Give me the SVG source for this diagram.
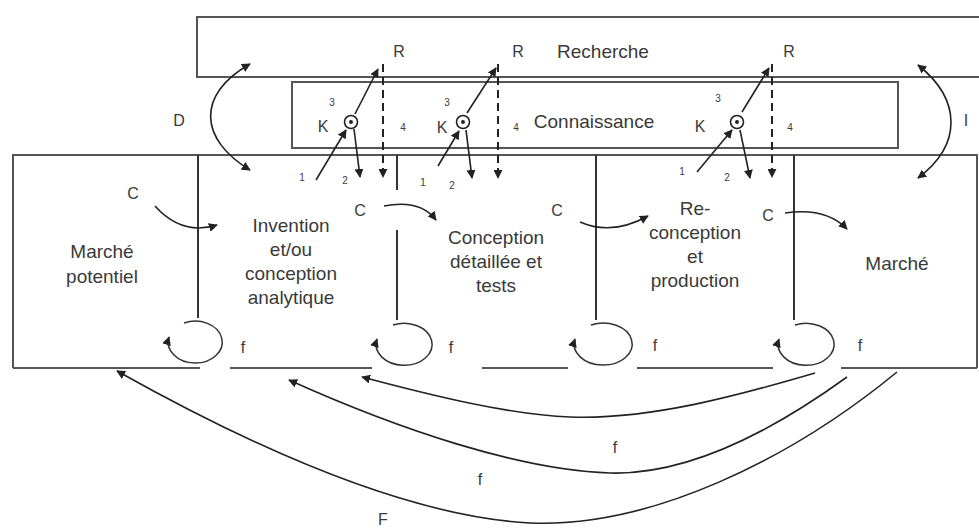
<svg xmlns="http://www.w3.org/2000/svg" width="979" height="530" viewBox="0 0 979 530">
<defs>
<marker id="ah" viewBox="0 0 10 10" refX="9" refY="5" markerWidth="9" markerHeight="9" markerUnits="userSpaceOnUse" orient="auto-start-reverse">
<path d="M0,0 L10,5 L0,10 Z" fill="#222"/>
</marker>
<style>
.box{fill:none;stroke:#555;stroke-width:2}
.div{fill:none;stroke:#333;stroke-width:2}
.ar{fill:none;stroke:#222;stroke-width:1.6;marker-end:url(#ah)}
.dar{fill:none;stroke:#222;stroke-width:1.6;marker-start:url(#ah);marker-end:url(#ah)}
.dash{fill:none;stroke:#222;stroke-width:2;stroke-dasharray:8,5;marker-end:url(#ah)}
.loop{fill:none;stroke:#333;stroke-width:1.5;marker-end:url(#ah)}
.t{font-family:"Liberation Sans",Arial,sans-serif;fill:#3a3a3a;text-anchor:middle}
.big{font-size:19px}
.lbl{font-size:16px}
.num{font-size:10px}
.k{fill:#fff;stroke:#222;stroke-width:1.6}
</style>
</defs>

<g id="recherche">
<rect class="box" x="197" y="17" width="800" height="60"/>
<text class="t big" x="603" y="58">Recherche</text>
</g>

<g id="connaissance">
<rect class="box" x="292" y="82" width="606" height="66"/>
<text class="t big" x="594" y="128">Connaissance</text>
</g>

<g id="frame">
<path class="box" d="M13,368 L13,155 L977,155 L977,368"/>
<path class="box" d="M13,368 L200,368 M230,368 L372,368 M482,368 L568,368 M637,368 L773,368 M841,368 L977,368"/>
<path class="div" d="M198,155 L198,318 M397,155 L397,190 M397,230 L397,320 M596,155 L596,320 M794,155 L794,320"/>
</g>

<g id="marche-potentiel">
<text class="t big" x="102" y="258">Marché</text>
<text class="t big" x="102" y="283">potentiel</text>
</g>

<g id="invention">
<text class="t big" x="291" y="232">Invention</text>
<text class="t big" x="291" y="256">et/ou</text>
<text class="t big" x="291" y="280">conception</text>
<text class="t big" x="291" y="304">analytique</text>
</g>

<g id="conception-detaillee">
<text class="t big" x="496" y="244">Conception</text>
<text class="t big" x="496" y="268">détaillée et</text>
<text class="t big" x="496" y="292">tests</text>
</g>

<g id="reconception">
<text class="t big" x="695" y="215">Re-</text>
<text class="t big" x="695" y="239">conception</text>
<text class="t big" x="695" y="263">et</text>
<text class="t big" x="695" y="287">production</text>
</g>

<g id="marche">
<text class="t big" x="897" y="270">Marché</text>
</g>

<g id="k1">
<circle class="k" cx="351" cy="122" r="6.5"/>
<circle cx="351" cy="122" r="2" fill="#222"/>
<text class="t lbl" x="323" y="132">K</text>
<text class="t num" x="332" y="106">3</text>
<text class="t num" x="403" y="131">4</text>
<text class="t num" x="302" y="181">1</text>
<text class="t num" x="345" y="184">2</text>
<text class="t lbl" x="399" y="57">R</text>
</g>
<g id="k2">
<circle class="k" cx="463" cy="122" r="6.5"/>
<circle cx="463" cy="122" r="2" fill="#222"/>
<text class="t lbl" x="442" y="133">K</text>
<text class="t num" x="447" y="106">3</text>
<text class="t num" x="516" y="131">4</text>
<text class="t num" x="423" y="186">1</text>
<text class="t num" x="452" y="189">2</text>
<text class="t lbl" x="518" y="57">R</text>
</g>
<g id="k3">
<circle class="k" cx="737" cy="122" r="6.5"/>
<circle cx="737" cy="122" r="2" fill="#222"/>
<text class="t lbl" x="700" y="132">K</text>
<text class="t num" x="718" y="102">3</text>
<text class="t num" x="790" y="131">4</text>
<text class="t num" x="682" y="175">1</text>
<text class="t num" x="727" y="181">2</text>
<text class="t lbl" x="789" y="57">R</text>
</g>

<g id="connectors">
<line class="ar" x1="355" y1="114" x2="378" y2="69"/>
<line class="ar" x1="316" y1="180" x2="346" y2="130"/>
<line class="ar" x1="354" y1="129" x2="360" y2="177"/>
<line class="dash" x1="383" y1="64" x2="383" y2="177"/>
<line class="ar" x1="467" y1="113" x2="496" y2="68"/>
<line class="ar" x1="438" y1="166" x2="459" y2="131"/>
<line class="ar" x1="466" y1="130" x2="472" y2="178"/>
<line class="dash" x1="498" y1="64" x2="498" y2="178"/>
<line class="ar" x1="742" y1="112" x2="769" y2="68"/>
<line class="ar" x1="697" y1="172" x2="732" y2="130"/>
<line class="ar" x1="740" y1="130" x2="750" y2="178"/>
<line class="dash" x1="772" y1="64" x2="772" y2="177"/>

<path class="dar" d="M250,64 C195,95 200,140 250,170"/>
<path class="dar" d="M918,65 C962,100 962,145 918,178"/>

<path class="ar" d="M155,206 Q182,236 217,225"/>
<path class="ar" d="M384,206 Q420,199 436,220"/>
<path class="ar" d="M580,222 Q612,236 648,216"/>
<path class="ar" d="M785,213 Q826,207 847,229"/>

<path class="loop" d="M184,323 A27,21 0 1 1 169,337"/>
<path class="loop" d="M393,325 A28,21 0 1 1 377,339"/>
<path class="loop" d="M591,325 A29,21 0 1 1 575,339"/>
<path class="loop" d="M795,325 A28,21 0 1 1 779,339"/>

<path class="ar" d="M897,372 C790,460 650,528 530,523 C400,516 240,440 117,371"/>
<path class="ar" d="M847,377 C760,440 680,475 610,473 C520,470 400,430 289,380"/>
<path class="ar" d="M815,373 C740,395 650,420 570,417 C510,415 430,395 362,377"/>
</g>

<g id="labels">
<text class="t lbl" x="179" y="126">D</text>
<text class="t lbl" x="966" y="126">I</text>
<text class="t lbl" x="133" y="199">C</text>
<text class="t lbl" x="360" y="216">C</text>
<text class="t lbl" x="557" y="216">C</text>
<text class="t lbl" x="768" y="221">C</text>
<text class="t lbl" x="243" y="353">f</text>
<text class="t lbl" x="451" y="353">f</text>
<text class="t lbl" x="655" y="351">f</text>
<text class="t lbl" x="860" y="351">f</text>
<text class="t lbl" x="480" y="485">f</text>
<text class="t lbl" x="615" y="453">f</text>
<text class="t lbl" x="383" y="525">F</text>
</g>
</svg>
